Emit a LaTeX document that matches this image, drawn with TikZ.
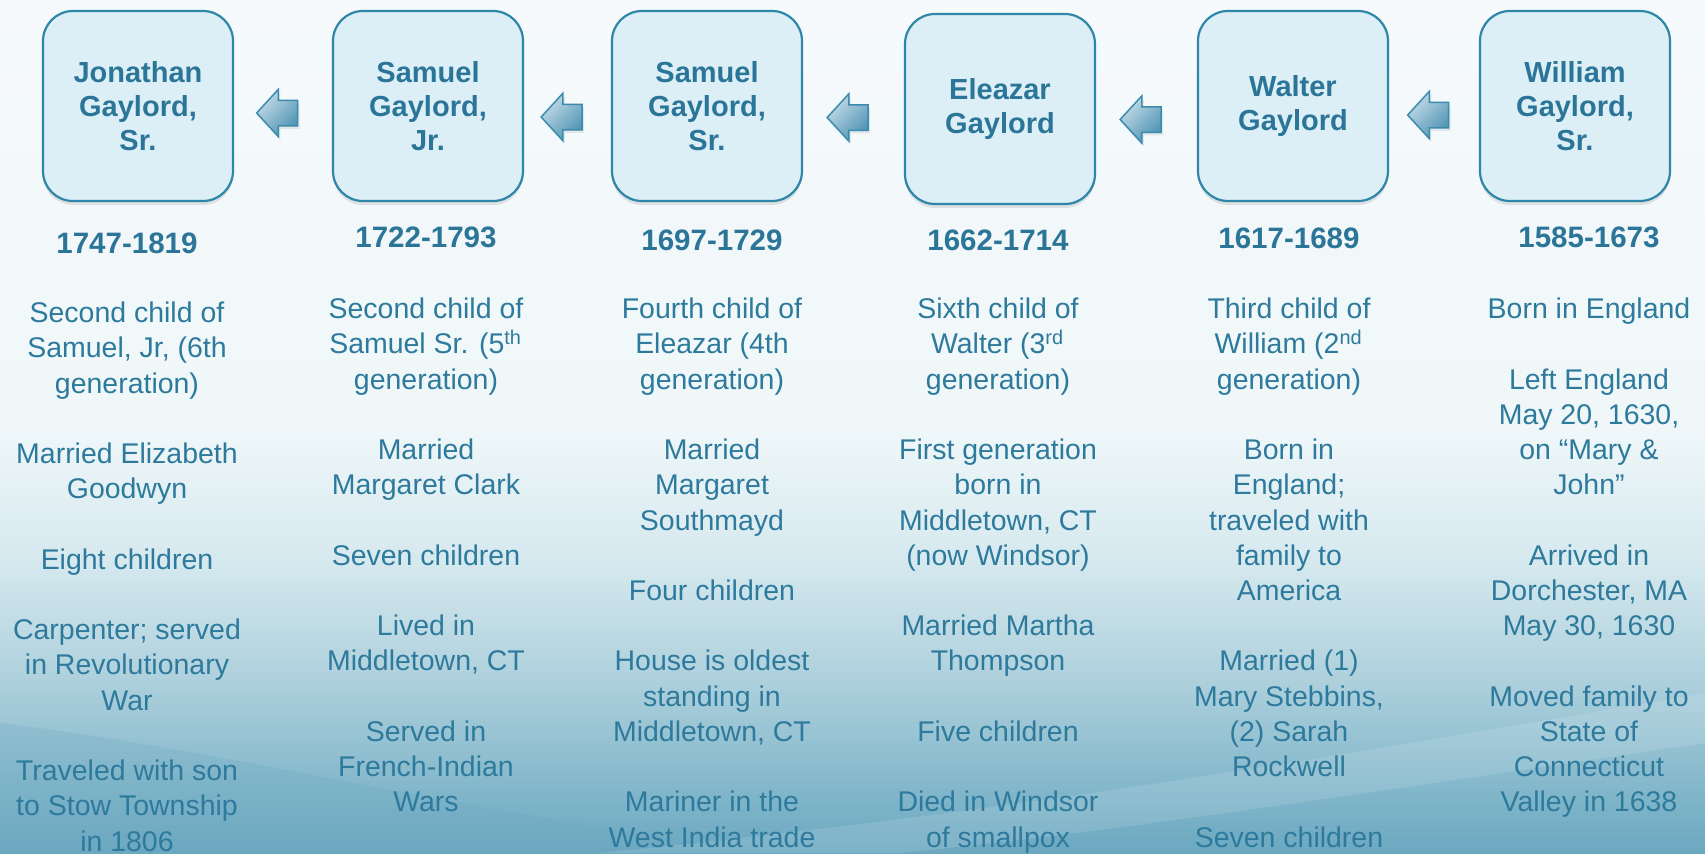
\documentclass[tikz,border=0pt]{standalone}
\usepackage{fontspec}
\setmainfont{Liberation Sans}
\usepackage{tikz}
\usetikzlibrary{positioning,shapes.arrows,shadows}
\definecolor{ink}{HTML}{2E7A9D}
\definecolor{boxink}{HTML}{2B7598}
\definecolor{boxfill}{HTML}{DDEFF6}
\definecolor{boxline}{HTML}{2E86A8}
\definecolor{arrlight}{HTML}{C6DDE9}
\definecolor{arrdark}{HTML}{4F93B3}
\definecolor{arrline}{HTML}{3A8BAE}
\definecolor{bgA}{HTML}{6BA8C0}
\definecolor{bgB}{HTML}{86B9CC}
\definecolor{bgC}{HTML}{ADD0DC}
\definecolor{bgD}{HTML}{D6E9EF}
\definecolor{bgE}{HTML}{EFF7F9}
\definecolor{bgF}{HTML}{F6FAFC}
\pgfdeclareverticalshading{slideback}{100bp}{color(0bp)=(bgA); color(25bp)=(bgA); color(29.3bp)=(bgB); color(35.1bp)=(bgC); color(42.2bp)=(bgD); color(49.8bp)=(bgE); color(75bp)=(bgF); color(100bp)=(bgF)}
\newcommand{\boxfont}{\bfseries\fontsize{8.25pt}{9.7pt}\selectfont}
\newcommand{\yearfont}{\bfseries\fontsize{8.4pt}{10pt}\selectfont}
\newcommand{\factfont}{\fontsize{8.1pt}{10.02pt}\selectfont}
\newcommand{\emptyrow}{\\[10.02pt]}
\tikzstyle{person} = [draw=boxline, line width=0.22mm, fill=boxfill, rounded corners=3mm, minimum width=1.9cm, minimum height=1.9cm, align=center, text=boxink, font=\boxfont, drop shadow={shadow xshift=0mm, shadow yshift=-0.4mm, opacity=0.2}]
\tikzstyle{goesto} = [single arrow, shape border rotate=180, draw=arrline, line width=0.15mm, top color=arrlight, bottom color=arrdark, shading angle=45, minimum height=4.1mm, inner xsep=0pt, inner ysep=1.2mm, single arrow head extend=1.1mm, single arrow tip angle=95, drop shadow={shadow xshift=0.2mm, shadow yshift=-0.3mm, opacity=0.15}]
\tikzstyle{years} = [anchor=base, inner sep=0pt, text=boxink, font=\yearfont]
\tikzstyle{facts} = [anchor=north, inner sep=0pt, align=center, text=ink, font=\factfont]

\begin{document}
\begin{tikzpicture}
			% background
			\shade[shading=slideback] (0,0) rectangle (17.05,8.53);
			\fill[bgA, opacity=0.25] (0,0) -- (0,1.30) .. controls (2.5,1.0) and (5,0.3) .. (8,0) -- cycle;
			\fill[white, opacity=0.12] (6,0) .. controls (10,0.4) and (13,0.9) .. (17.05,1.6) -- (17.05,1.1) .. controls (13,0.5) and (11,0.2) .. (9,0) -- cycle;
			\useasboundingbox (0,0) rectangle (17.05,8.53);
			% generations
			\node[person] (jonathan) at (1.38,7.47) {Jonathan\\Gaylord,\\Sr.};
			\node[person] (samueljr) at (4.28,7.47) {Samuel\\Gaylord,\\Jr.};
			\node[person] (samuelsr) at (7.07,7.47) {Samuel\\Gaylord,\\Sr.};
			\node[person] (eleazar) at (10.00,7.44) {Eleazar\\Gaylord};
			\node[person] (walter) at (12.93,7.47) {Walter\\Gaylord};
			\node[person] (william) at (15.75,7.47) {William\\Gaylord,\\Sr.};
			\path (samueljr) -- (jonathan) node[goesto, midway, yshift=-0.7mm] (a1) {};
			\path (samuelsr) -- (samueljr) node[goesto, midway, yshift=-1.1mm] (a2) {};
			\path (eleazar) -- (samuelsr) node[goesto, midway, yshift=-1mm] (a3) {};
			\path (walter) -- (eleazar) node[goesto, midway, yshift=-1.2mm] (a4) {};
			\path (william) -- (walter) node[goesto, midway, yshift=-0.9mm] (a5) {};
			% years
			\node[years] (yjonathan) at (1.27,6.00) {1747-1819};
			\node[years] (ysamueljr) at (4.26,6.06) {1722-1793};
			\node[years] (ysamuelsr) at (7.12,6.03) {1697-1729};
			\node[years] (yeleazar) at (9.98,6.03) {1662-1714};
			\node[years] (ywalter) at (12.89,6.05) {1617-1689};
			\node[years] (ywilliam) at (15.89,6.06) {1585-1673};
			% facts
			\node[facts] (fjonathan) at (1.27,5.556) {\strut Second child of\\Samuel, Jr, (6th\\generation)\emptyrow Married Elizabeth\\Goodwyn\emptyrow Eight children\emptyrow Carpenter; served\\in Revolutionary\\War\emptyrow Traveled with son\\to Stow Township\\in 1806};
			\node[facts] (fsamueljr) at (4.26,5.596) {\strut Second child of\\Samuel Sr. (5\textsuperscript{th}\\generation)\emptyrow Married\\Margaret Clark\emptyrow Seven children\emptyrow Lived in\\Middletown, CT\emptyrow Served in\\French-Indian\\Wars};
			\node[facts] (fsamuelsr) at (7.12,5.596) {\strut Fourth child of\\Eleazar (4th\\generation)\emptyrow Married\\Margaret\\Southmayd\emptyrow Four children\emptyrow House is oldest\\standing in\\Middletown, CT\emptyrow Mariner in the\\West India trade};
			\node[facts] (feleazar) at (9.98,5.596) {\strut Sixth child of\\Walter (3\textsuperscript{rd}\\generation)\emptyrow First generation\\born in\\Middletown, CT\\(now Windsor)\emptyrow Married Martha\\Thompson\emptyrow Five children\emptyrow Died in Windsor\\of smallpox};
			\node[facts] (fwalter) at (12.89,5.596) {\strut Third child of\\William (2\textsuperscript{nd}\\generation)\emptyrow Born in\\England;\\traveled with\\family to\\America\emptyrow Married (1)\\Mary Stebbins,\\(2) Sarah\\Rockwell\emptyrow Seven children};
			\node[facts] (fwilliam) at (15.89,5.596) {\strut Born in England\emptyrow Left England\\May 20, 1630,\\on “Mary \&\\John”\emptyrow Arrived in\\Dorchester, MA\\May 30, 1630\emptyrow Moved family to\\State of\\Connecticut\\Valley in 1638};
		\end{tikzpicture}
\end{document}
